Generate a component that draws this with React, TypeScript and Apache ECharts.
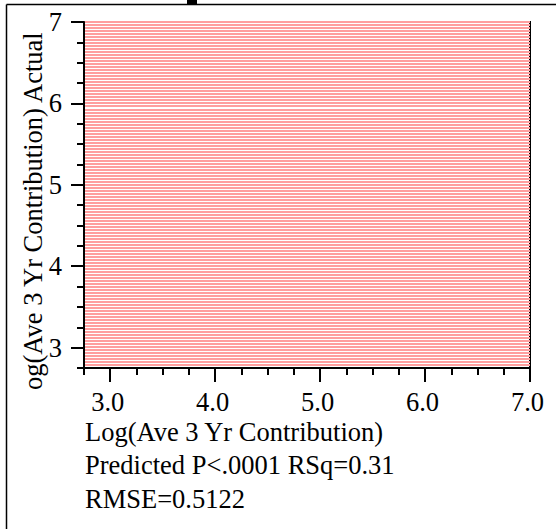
import React, { useEffect, useRef } from "react";
import * as echarts from "echarts";

const xMajorTicks = [3, 4, 5, 6, 7];
const yMajorTicks = [3, 4, 5, 6, 7];
const axisMin = 2.75;
const axisMax = 7;
const minorStep = 0.25;
const xAxisTitle = "Log(Ave 3 Yr Contribution)";
const yAxisTitle = "og(Ave 3 Yr Contribution) Actual";
const statLines = ["Predicted P<.0001 RSq=0.31", "RMSE=0.5122"];
const points: number[][] = [];

const FONT = "'Liberation Serif', 'Times New Roman', serif";
const FS = 26.5;

export default function App() {
  const ref = useRef<HTMLDivElement>(null);
  useEffect(() => {
    if (!ref.current) return;
    const chart = echarts.init(ref.current, null, { renderer: "svg" });
    const gridLeft = 84;
    const gridTop = 22;
    const gridW = 446;
    const gridH = 346;
    const stripeCount = Math.round(gridH / 3);
    const option: any = {
      animation: false,
      backgroundColor: "#fff",
      grid: {
        left: gridLeft,
        top: gridTop,
        width: gridW,
        height: gridH,
        show: true,
        borderColor: "#000",
        borderWidth: 2,
        backgroundColor: "#fff",
        containLabel: false,
        outerBoundsMode: "none",
      },
      xAxis: [
        {
          type: "value",
          min: axisMin,
          max: axisMax,
          interval: minorStep,
          axisLine: { show: true, lineStyle: { color: "#000", width: 2 } },
          axisTick: {
            show: true,
            customValues: xMajorTicks,
            length: 14,
            lineStyle: { color: "#000", width: 2 },
          },
          axisLabel: {
            show: true,
            customValues: xMajorTicks,
            formatter: (v: number) => v.toFixed(1),
            fontFamily: FONT,
            fontSize: FS,
            color: "#000",
            margin: 20,
            padding: [0, 5, 0, 0],
          },
          splitLine: { show: false },
        },
        {
          type: "value",
          min: axisMin,
          max: axisMax,
          interval: minorStep,
          position: "bottom",
          axisLine: { show: false },
          axisTick: { show: true, length: 7, lineStyle: { color: "#000", width: 2 } },
          axisLabel: { show: false },
          splitLine: { show: false },
        },
      ],
      yAxis: [
        {
          type: "value",
          min: axisMin,
          max: axisMax,
          interval: minorStep,
          axisLine: { show: true, lineStyle: { color: "#000", width: 2 } },
          axisTick: {
            show: true,
            customValues: yMajorTicks,
            length: 13,
            lineStyle: { color: "#000", width: 2 },
          },
          axisLabel: {
            show: true,
            customValues: yMajorTicks,
            formatter: (v: number) => String(v),
            fontFamily: FONT,
            fontSize: FS,
            color: "#000",
            margin: 22,
            padding: [9, 0, 0, 0],
          },
          splitLine: { show: false },
        },
        {
          type: "value",
          min: axisMin,
          max: axisMax,
          interval: minorStep,
          position: "left",
          axisLine: { show: false },
          axisTick: { show: true, length: 7, lineStyle: { color: "#000", width: 2 } },
          axisLabel: { show: false },
          splitLine: { show: false },
        },
        {
          type: "value",
          min: 0,
          max: stripeCount,
          interval: 1,
          position: "right",
          axisLine: { show: false },
          axisTick: { show: false },
          axisLabel: { show: false },
          splitLine: { show: true, lineStyle: { color: "#ff9e9e", width: 2 } },
        },
      ],
      series: [
        {
          type: "scatter",
          xAxisIndex: 0,
          yAxisIndex: 0,
          data: points,
          symbolSize: 4,
          itemStyle: { color: "#000" },
        },
      ],
      graphic: [
        {
          type: "line",
          shape: { x1: 6.5, y1: 4.5, x2: 556, y2: 4.5 },
          style: { stroke: "#000", lineWidth: 1.5 },
        },
        {
          type: "line",
          shape: { x1: 6.5, y1: 4.5, x2: 6.5, y2: 529 },
          style: { stroke: "#000", lineWidth: 1.5 },
        },
        {
          type: "rect",
          shape: { x: 187, y: 0, width: 10, height: 4 },
          style: { fill: "#000" },
        },
        {
          type: "text",
          x: 46,
          y: 390,
          rotation: Math.PI / 2,
          style: {
            text: yAxisTitle,
            fontFamily: FONT,
            fontSize: FS,
            fill: "#000",
            textAlign: "left",
            textVerticalAlign: "bottom",
          },
        },
        {
          type: "text",
          x: 85,
          y: 418.5,
          style: {
            text: xAxisTitle,
            fontFamily: FONT,
            fontSize: FS,
            fill: "#000",
            textAlign: "left",
            textVerticalAlign: "top",
          },
        },
        ...statLines.map((t, i) => ({
          type: "text",
          x: 85,
          y: 451.5 + i * 33.5,
          style: {
            text: t,
            fontFamily: FONT,
            fontSize: FS,
            fill: "#000",
            textAlign: "left",
            textVerticalAlign: "top",
          },
        })),
      ],
    };
    chart.setOption(option);
    return () => chart.dispose();
  }, []);
  return (
    <div
      ref={ref}
      style={{ position: "fixed", left: 0, top: 0, width: 556, height: 529 }}
    />
  );
}
